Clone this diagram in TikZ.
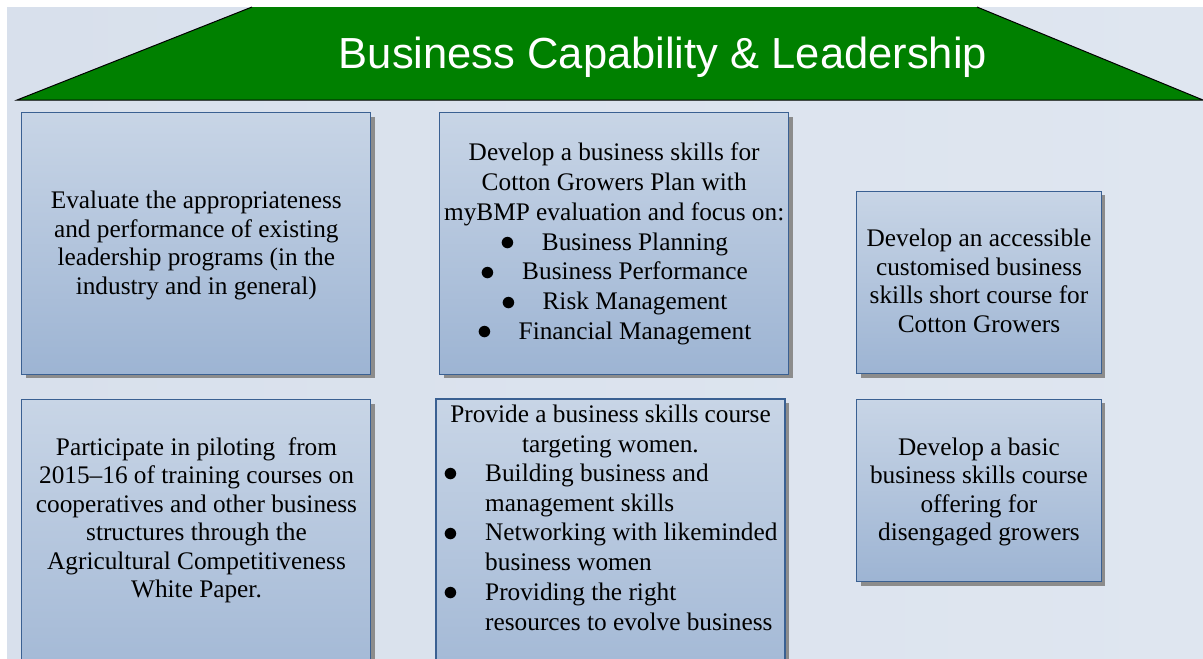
\documentclass[tikz,border=0pt]{standalone}
\usepackage{fontspec}
\setmainfont{Liberation Serif}
\newfontfamily\titlefont{Liberation Sans}
\usepackage{graphicx}
\usepackage{tikz}
\usetikzlibrary{shadows, positioning}
\definecolor{roofgreen}{RGB}{0, 128, 0}
\definecolor{bgleft}{RGB}{216, 224, 236}
\definecolor{bgright}{RGB}{223, 230, 240}
\definecolor{cardtop}{RGB}{200, 213, 230}
\definecolor{cardbottom}{RGB}{157, 180, 211}
\definecolor{cardline}{RGB}{58, 96, 146}
\newcommand\cardfont{\fontsize{25.3}{28.5}\selectfont}
\newcommand\listfont{\fontsize{25.3}{29.8}\selectfont}
\newcommand\cardstrut{\rule{0pt}{20pt}}
\newcommand\bulitem{\makebox[41.6pt][l]{\raisebox{-0.3pt}{\scalebox{1.2}{$\bullet$}}}}
\newcommand\bulpad{\makebox[41.6pt]{}}

\begin{document}
\begin{tikzpicture}[
    x=1pt, y=-1pt,
    cardbox/.style={rectangle, draw=cardline, line width=1.2pt, top color=cardtop, bottom color=cardbottom,
        drop shadow={shadow xshift=4pt, shadow yshift=-4pt, fill=black!45, opacity=1}},
    bigcard/.style={cardbox, minimum width=349pt, minimum height=261.5pt},
    tallcard/.style={cardbox, minimum width=349pt, minimum height=320pt, anchor=north},
    smallcard/.style={cardbox, minimum width=244.5pt, minimum height=182.5pt},
    cardtext/.style={align=center, font=\cardfont, inner sep=0pt, anchor=north},
    listtext/.style={cardtext, font=\listfont},
    roof/.style={fill=roofgreen},
    roofline/.style={draw=black, line width=1pt}
]
\useasboundingbox (0,0) rectangle (1203,659);
\clip (0,0) rectangle (1203,659);

% background and roof
\fill[left color=bgleft, right color=bgright] (7,7) rectangle (1203,659);
\fill[roof] (17,100) -- (252,7) -- (977,7) -- (1203,100) -- cycle;
\draw[roofline] (252,7) -- (17,100) -- (1203,100) -- (977,7);
\node[font=\titlefont\fontsize{43.5}{50}\selectfont, text=white, anchor=base] (title) at (663,68)
    {Business Capability \& Leadership};

% boxes
\node[bigcard] (evaluate) at (196.3,243.4) {};
\node[bigcard] (plan) at (614.2,243.4) {};
\node[smallcard] (shortcourse) at (979,282.4) {};
\node[tallcard] (pilot) at (196.3,399) {};
\node[tallcard] (women) at (610.5,398.3) {};
\node[smallcard] (basic) at (979,490.4) {};

% texts
\node[cardtext] (evaluatetext) at (196.3,188.3)
    {\cardstrut Evaluate the appropriateness\\ and performance of existing\\ leadership programs (in the\\ industry and in general)};
\node[listtext] (plantext) at (614.2,140.5)
    {\cardstrut Develop a business skills for\\ Cotton Growers Plan with\\ myBMP evaluation and focus on:\\
     \bulitem Business Planning\\ \bulitem Business Performance\\ \bulitem Risk Management\\ \bulitem Financial Management};
\node[cardtext] (shortcoursetext) at (979,226.3)
    {\cardstrut Develop an accessible\\ customised business\\ skills short course for\\ Cotton Growers};
\node[cardtext] (pilottext) at (196.5,435)
    {\cardstrut Participate in piloting~ from\\ 2015--16 of training courses on\\ cooperatives and other business\\
     structures through the\\ Agricultural Competitiveness\\ White Paper.};
\node[listtext] (womenhead) at (610.5,402.7) {\cardstrut Provide a business skills course\\ targeting women.};
\node[listtext, align=left, anchor=north west] (womenlist) at (443.4,461)
    {\cardstrut\bulitem Building business and\\ \bulpad management skills\\ \bulitem Networking with likeminded\\
     \bulpad business women\\ \bulitem Providing the right\\ \bulpad resources to evolve business};
\node[cardtext] (basictext) at (979,435)
    {\cardstrut Develop a basic\\ business skills course\\ offering for\\ disengaged growers};

\end{tikzpicture}
\end{document}
